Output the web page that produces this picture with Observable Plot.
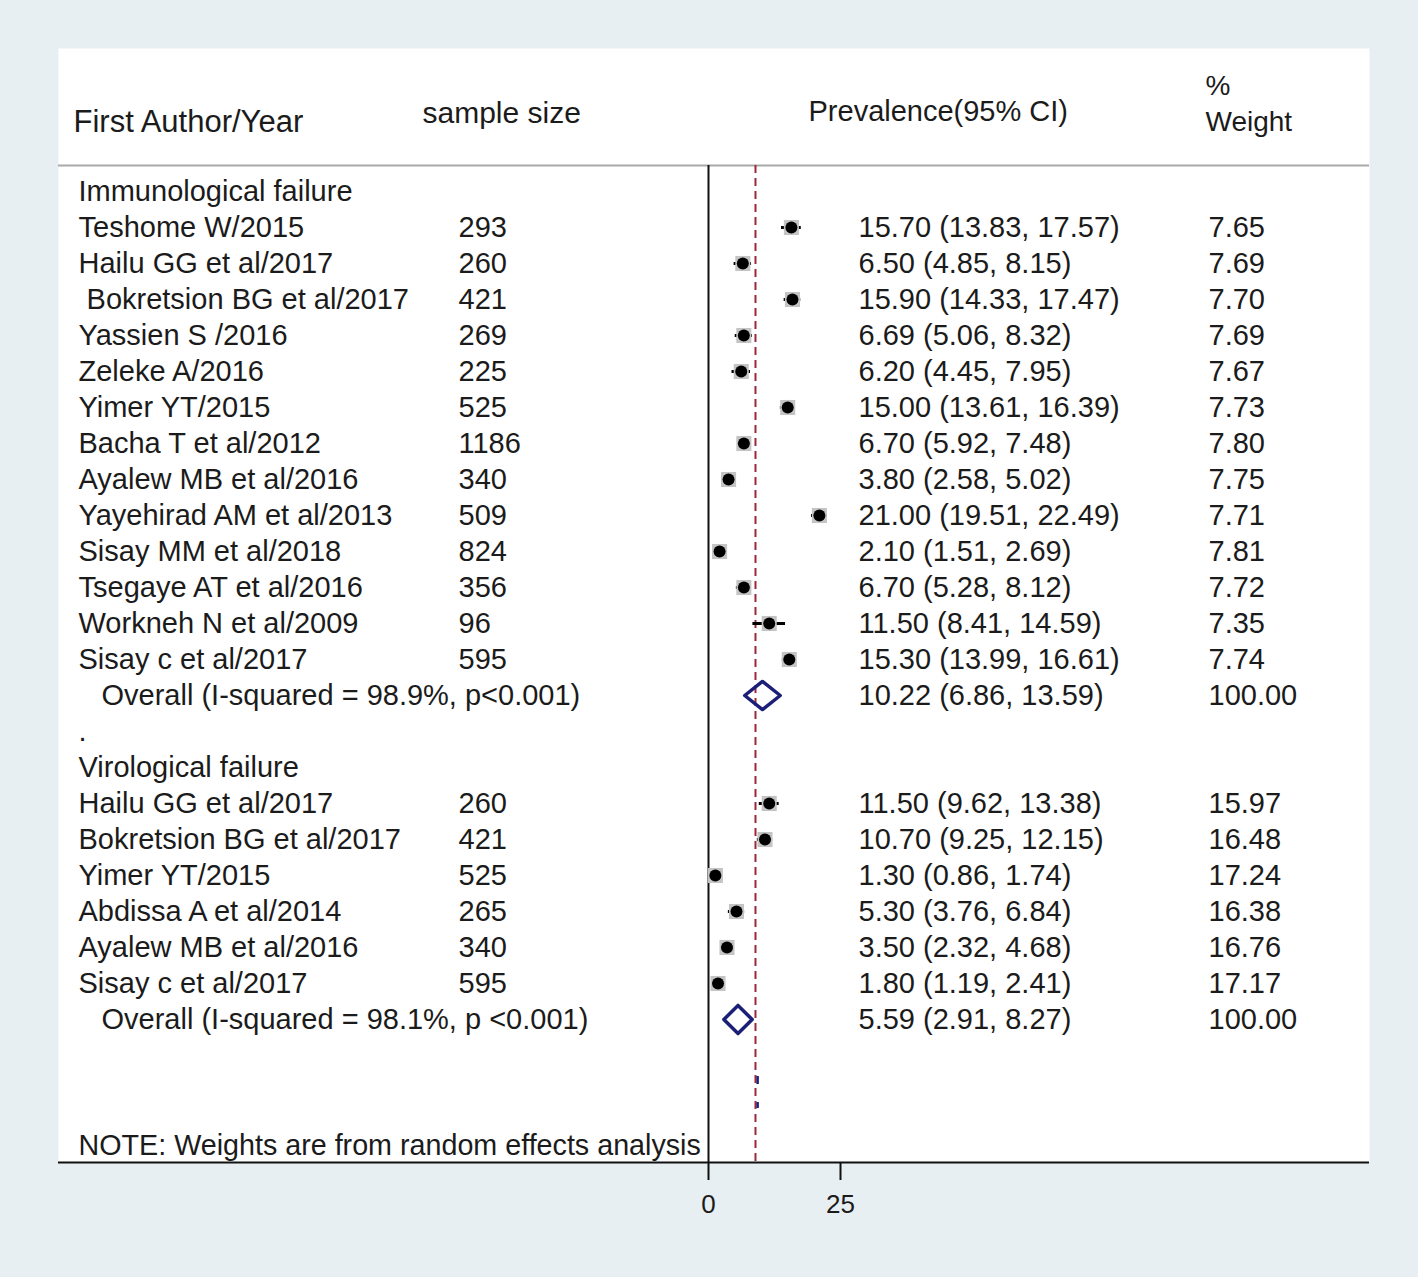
<!DOCTYPE html>
<html>
<head>
<meta charset="utf-8">
<script src="https://cdn.jsdelivr.net/npm/d3@7"></script>
<script src="https://cdn.jsdelivr.net/npm/@observablehq/plot@0.6"></script>
<style>
  html, body { margin: 0; padding: 0; background: #e8eff2; }
  #chart svg { display: block; }
</style>
</head>
<body>
<div id="chart"></div>
<script>
// ---------------- data ----------------
const immAuthors = ["Teshome W/2015", "Hailu GG et al/2017", " Bokretsion BG et al/2017", "Yassien S /2016", "Zeleke A/2016", "Yimer YT/2015", "Bacha T et al/2012", "Ayalew MB et al/2016", "Yayehirad AM et al/2013", "Sisay MM et al/2018", "Tsegaye AT et al/2016", "Workneh N et al/2009", "Sisay c et al/2017"];
const immN = [293, 260, 421, 269, 225, 525, 1186, 340, 509, 824, 356, 96, 595];
const immEst = [15.70, 6.50, 15.90, 6.69, 6.20, 15.00, 6.70, 3.80, 21.00, 2.10, 6.70, 11.50, 15.30];
const immLo = [13.83, 4.85, 14.33, 5.06, 4.45, 13.61, 5.92, 2.58, 19.51, 1.51, 5.28, 8.41, 13.99];
const immHi = [17.57, 8.15, 17.47, 8.32, 7.95, 16.39, 7.48, 5.02, 22.49, 2.69, 8.12, 14.59, 16.61];
const immW = ["7.65", "7.69", "7.70", "7.69", "7.67", "7.73", "7.80", "7.75", "7.71", "7.81", "7.72", "7.35", "7.74"];
const immOverall = {label: "Overall (I-squared = 98.9%, p<0.001)", est: 10.22, lo: 6.86, hi: 13.59, w: "100.00"};

const virAuthors = ["Hailu GG et al/2017", "Bokretsion BG et al/2017", "Yimer YT/2015", "Abdissa A et al/2014", "Ayalew MB et al/2016", "Sisay c et al/2017"];
const virN = [260, 421, 525, 265, 340, 595];
const virEst = [11.50, 10.70, 1.30, 5.30, 3.50, 1.80];
const virLo = [9.62, 9.25, 0.86, 3.76, 2.32, 1.19];
const virHi = [13.38, 12.15, 1.74, 6.84, 4.68, 2.41];
const virW = ["15.97", "16.48", "17.24", "16.38", "16.76", "17.17"];
const virOverall = {label: "Overall (I-squared = 98.1%, p <0.001)", est: 5.59, lo: 2.91, hi: 8.27, w: "100.00"};

const subgroupNames = ["Immunological failure", "Virological failure"];
const headers = ["First Author/Year", "sample size", "Prevalence(95% CI)", "%", "Weight"];
const noteText = "NOTE: Weights are from random effects analysis";
const pooledLine = 8.9;      // overall reference (dashed) line
const xTicks = [0, 25];

// ---------------- layout (styles/positions) ----------------
const W = 1418, H = 1277;
const M = {top: 48, right: 49, bottom: 115, left: 58};
const rowTop = 191, rowStep = 36;
const yMin = (M.top - rowTop) / rowStep;
const yMax = (H - M.bottom - rowTop) / rowStep;
const ySep = (165 - rowTop) / rowStep;
const col = {author: 20, overall: 43, n: 400, ci: 800, w: 1150};
const font = "'Liberation Sans', Arial, sans-serif";
const ink = "#1b1b1b";
const red = "#9a2a3a";
const navy = "#1b1f78";

// ---------------- build rows ----------------
const fmt = d3.format(".2f");
const ciText = (e, l, h) => `${fmt(e)} (${fmt(l)}, ${fmt(h)})`;
const studies = [];
const labels = [];
const diamonds = [];
let row = 0;
function addGroup(name, authors, ns, est, lo, hi, w, ov, g) {
  labels.push({row, text: name, kind: "group"});
  row++;
  authors.forEach((a, i) => {
    studies.push({row, est: est[i], lo: lo[i], hi: hi[i]});
    labels.push({row, text: a, kind: "author", n: String(ns[i]), ci: ciText(est[i], lo[i], hi[i]), w: w[i]});
    row++;
  });
  labels.push({row, text: ov.label, kind: "overall", ci: ciText(ov.est, ov.lo, ov.hi), w: ov.w});
  const h = 0.39;
  [[ov.lo, row], [ov.est, row - h], [ov.hi, row], [ov.est, row + h], [ov.lo, row]]
    .forEach(([x, y]) => diamonds.push({x, y, g}));
  row++;
}
addGroup(subgroupNames[0], immAuthors, immN, immEst, immLo, immHi, immW, immOverall, 0);
labels.push({row, text: ".", kind: "group"});
row++;
addGroup(subgroupNames[1], virAuthors, virN, virEst, virLo, virHi, virW, virOverall, 1);
const noteRow = row + 2.5;

const authorRows = labels.filter(d => d.kind !== "overall");
const overallRows = labels.filter(d => d.kind === "overall");
const valueRows = labels.filter(d => d.ci);
const nRows = labels.filter(d => d.n);

const txt = {fontFamily: font, fill: ink, stroke: null, textAnchor: "start", frameAnchor: "left"};

const chart = Plot.plot({
  width: W, height: H,
  marginTop: M.top, marginRight: M.right, marginBottom: M.bottom, marginLeft: M.left,
  style: {background: "#e8eff2", fontFamily: font},
  x: {domain: [0, 25], range: [708, 840]},
  y: {domain: [yMin, yMax], range: [M.top, H - M.bottom], axis: null},
  marks: [
    Plot.frame({fill: "white", stroke: null}),
    Plot.ruleY([ySep], {stroke: "#a9a9a9", strokeWidth: 2}),
    Plot.ruleY([yMax], {stroke: "#111", strokeWidth: 2}),
    Plot.ruleX([0], {y1: ySep, y2: yMax, stroke: "#111", strokeWidth: 2}),
    Plot.ruleX([pooledLine], {y1: ySep, y2: yMax, stroke: red, strokeWidth: 2, strokeDasharray: "8,5"}),
    Plot.ruleX([pooledLine + 0.4], {y1: 24.58, y2: 25.47, stroke: navy, strokeWidth: 2.5, strokeDasharray: "8,18,6"}),
    // headers
    Plot.text([headers[0]], {...txt, text: d => d, y: -1.94, dx: 15, fontSize: 31}),
    Plot.text([headers[1]], {...txt, text: d => d, y: -2.17, dx: 364, fontSize: 30}),
    Plot.text([headers[2]], {...txt, text: d => d, y: -2.22, dx: 750, fontSize: 29}),
    Plot.text([headers[3]], {...txt, text: d => d, y: -2.94, dx: 1147, fontSize: 28}),
    Plot.text([headers[4]], {...txt, text: d => d, y: -1.94, dx: 1147, fontSize: 28}),
    // study markers
    Plot.ruleY(studies, {y: "row", x1: "lo", x2: "hi", stroke: "#000", strokeWidth: 3}),
    Plot.dot(studies, {x: "est", y: "row", symbol: "square", r: 8.5, fill: "#c4c4c4", stroke: null}),
    Plot.dot(studies, {x: "est", y: "row", r: 6, fill: "#000", stroke: null}),
    // pooled diamonds
    Plot.line(diamonds, {x: "x", y: "y", z: "g", stroke: navy, strokeWidth: 3.5, curve: "linear"}),
    // text columns
    Plot.text(authorRows, {...txt, y: "row", text: "text", dx: col.author, fontSize: 29}),
    Plot.text(overallRows, {...txt, y: "row", text: "text", dx: col.overall, fontSize: 29}),
    Plot.text(nRows, {...txt, y: "row", text: "n", dx: col.n, fontSize: 29}),
    Plot.text(valueRows, {...txt, y: "row", text: "ci", dx: col.ci, fontSize: 29}),
    Plot.text(valueRows, {...txt, y: "row", text: "w", dx: col.w, fontSize: 29}),
    Plot.text([noteText], {...txt, text: d => d, y: noteRow, dx: col.author, fontSize: 28.7}),
    // axis
    Plot.axisX(xTicks, {anchor: "bottom", tickSize: 18, tickPadding: 14, fontSize: 26, stroke: "#111", strokeWidth: 2, fill: ink, label: null, tickFormat: d => String(d)})
  ]
});
document.getElementById("chart").appendChild(chart);
</script>
</body>
</html>
